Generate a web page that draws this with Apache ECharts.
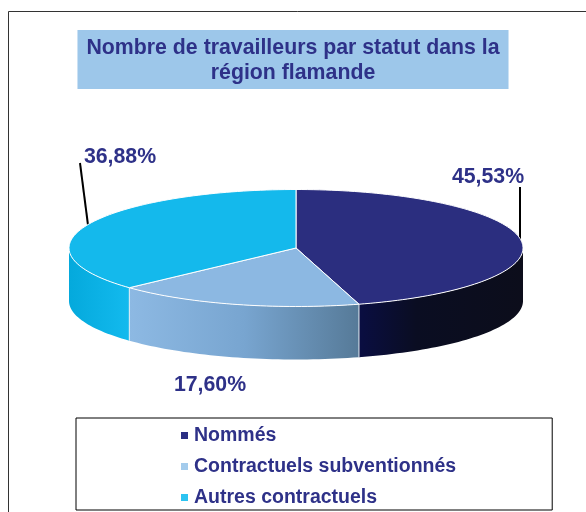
<!DOCTYPE html>
<html><head><meta charset="utf-8">
<style>html,body{margin:0;padding:0;background:#fff}#c{width:586px;height:512px}</style>
<script src="https://cdn.jsdelivr.net/npm/echarts@6/dist/echarts.min.js"></script>
</head><body><div id="c"></div>
<script>
const titleText = 'Nombre de travailleurs par statut dans la\nrégion flamande';
const statuts = ['Nommés', 'Contractuels subventionnés', 'Autres contractuels'];
const parts = [45.53, 17.60, 36.88];
const percentLabels = ['45,53%', '17,60%', '36,88%'];

const INK = '#2e3188';
const topColors = ['#2b2e7f', '#8cb8e2', '#14b9ec'];
const legendColors = ['#2b2e83', '#a3cbec', '#2cc3f1'];
const sideStops = [
  [[0, '#0a0e42'], [0.35, '#0a0d22'], [1, '#0c0d1b']],
  [[0, '#8db9e3'], [0.5, '#78a5d0'], [1, '#567a98']],
  [[0, '#04a9dc'], [1, '#13baee']]
];
const PIE = { cx: 296, cy: 248, rx: 227, ry: 58.5, depth: 53 };
const labelSpots = [[488, 177], [210, 385], [120, 157]];
const leaders = [[[520, 187], [520, 241]], null, [[80, 163], [88, 225]]];

const total = parts.reduce((a, b) => a + b, 0);
const rad = d => d * Math.PI / 180;
const ex = d => PIE.cx + PIE.rx * Math.sin(rad(d));
const ey = d => PIE.cy - PIE.ry * Math.cos(rad(d));
function arc(a, b, dy) {
  const pts = [], n = Math.max(2, Math.ceil(Math.abs(b - a) / 1.5));
  for (let i = 0; i <= n; i++) { const t = a + (b - a) * i / n; pts.push([ex(t), ey(t) + dy]); }
  return pts;
}
function renderSlice(i, api) {
  const v = api.value(0);
  let s = 0;
  for (let k = 0; k < i; k++) s += parts[k] / total * 360;
  const e = s + v / total * 360;
  const children = [];
  const a = Math.max(s, 90), b = Math.min(e, 270);
  if (a < b) {
    const xs = [ex(a), ex(b)];
    children.push({
      type: 'polygon', z2: 1,
      shape: { points: arc(a, b, 0).concat(arc(b, a, PIE.depth)) },
      style: { fill: { type: 'linear', global: true, x: Math.min(...xs), y: 0, x2: Math.max(...xs), y2: 0,
        colorStops: sideStops[i].map(c => ({ offset: c[0], color: c[1] })) } }
    });
    if (s >= 90 && s <= 270) {
      children.push({ type: 'line', z2: 2,
        shape: { x1: ex(s), y1: ey(s), x2: ex(s), y2: ey(s) + PIE.depth },
        style: { stroke: '#e6eef5', lineWidth: 1 } });
    }
  }
  children.push({
    type: 'polygon', z2: 3,
    shape: { points: [[PIE.cx, PIE.cy]].concat(arc(s, e, 0)) },
    style: { fill: topColors[i], stroke: '#ffffff', lineWidth: 1, lineJoin: 'round' }
  });
  if (leaders[i]) {
    const L = leaders[i];
    children.push({ type: 'line', z2: 2,
      shape: { x1: L[0][0], y1: L[0][1], x2: L[1][0], y2: L[1][1] },
      style: { stroke: '#000', lineWidth: 2 } });
  }
  children.push({ type: 'text', z2: 5,
    style: { text: percentLabels[i], x: labelSpots[i][0], y: labelSpots[i][1],
      fill: INK, font: 'bold 21.3px "Liberation Sans", Arial, sans-serif',
      align: 'center', verticalAlign: 'middle', textAlign: 'center', textVerticalAlign: 'middle' } });
  return { type: 'group', children };
}

const chart = echarts.init(document.getElementById('c'), null, { renderer: 'canvas' });
chart.setOption({
  animation: false,
  backgroundColor: '#fff',
  title: {
    text: titleText,
    left: 284, top: 30,
    textAlign: 'center',
    padding: [6, 9, 3, 9],
    backgroundColor: '#9dc7ea',
    textStyle: { color: INK, fontFamily: '"Liberation Sans", Arial, sans-serif', fontSize: 21.3, fontWeight: 'bold', lineHeight: 25 }
  },
  legend: {
    orient: 'vertical',
    left: 76, top: 418,
    padding: [7, 96, 2, 105],
    borderColor: '#000', borderWidth: 1,
    itemGap: 10,
    itemWidth: 7, itemHeight: 7,
    icon: 'rect',
    selectedMode: false,
    textStyle: { color: INK, fontFamily: '"Liberation Sans", Arial, sans-serif', fontSize: 19.5, fontWeight: 'bold', padding: [0, 0, 0, 1], lineHeight: 21 },
    data: statuts.map((n, i) => ({ name: n, itemStyle: { color: legendColors[i] } }))
  },
  graphic: [{
    type: 'rect', z: -1, silent: true,
    shape: { x: 8.5, y: 11.5, width: 640, height: 560 },
    style: { fill: 'none', stroke: '#333', lineWidth: 1 }
  }],
  series: statuts.map((n, i) => ({
    type: 'custom',
    name: n,
    coordinateSystem: 'none',
    silent: true,
    itemStyle: { color: legendColors[i] },
    data: [{ name: n, value: [parts[i]] }],
    renderItem: (params, api) => renderSlice(i, api)
  }))
});
</script></body></html>
